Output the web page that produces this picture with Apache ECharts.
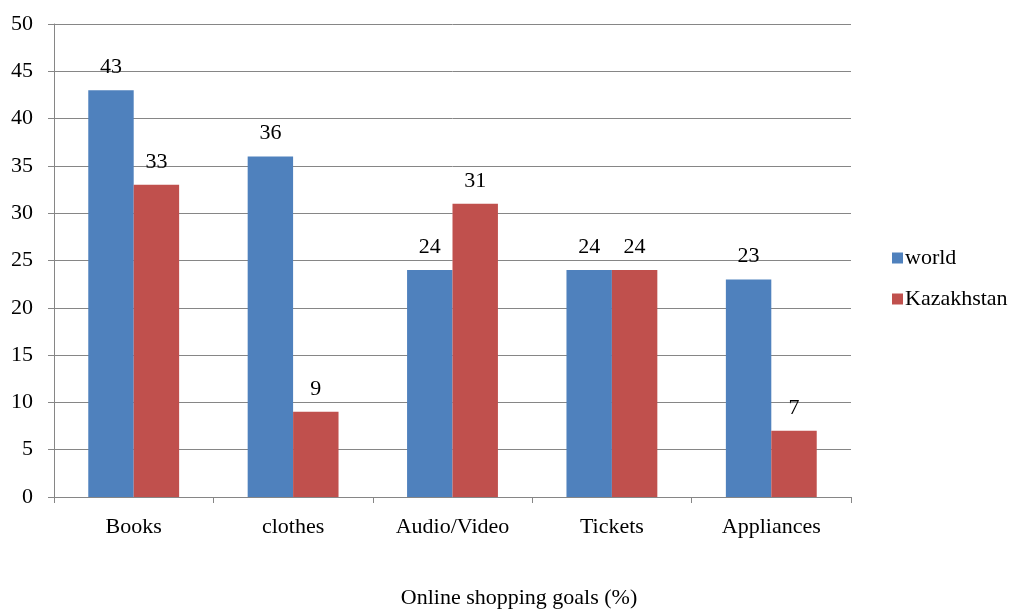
<!DOCTYPE html>
<html><head><meta charset="utf-8">
<script src="https://cdn.jsdelivr.net/npm/echarts@6/dist/echarts.min.js"></script>
<style>html,body{margin:0;padding:0;background:#fff}#c{width:1022px;height:610px}</style>
</head><body><div id="c"></div>
<script>
const categories = ['Books', 'clothes', 'Audio/Video', 'Tickets', 'Appliances'];
const worldValues = [43, 36, 24, 24, 23];
const kazakhstanValues = [33, 9, 31, 24, 7];
const yTicks = [0, 5, 10, 15, 20, 25, 30, 35, 40, 45, 50];
const xTitle = 'Online shopping goals (%)';

const font = 'Liberation Serif, Times New Roman, serif';
const fs = 22;
const chart = echarts.init(document.getElementById('c'));
chart.setOption({
  animation: false,
  textStyle: {fontFamily: font},
  grid: {left: 54, right: 171, top: 24, bottom: 113},
  legend: {
    orient: 'vertical', left: 887, top: 242,
    itemWidth: 11, itemHeight: 11, itemGap: 19,
    icon: 'rect',
    textStyle: {fontFamily: font, fontSize: fs, color: '#000', padding: [0, 0, 0, -3]},
    data: ['world', 'Kazakhstan']
  },
  graphic: [{
    type: 'text', x: 519, y: 598,
    style: {text: xTitle, font: fs + 'px ' + font, fill: '#000', align: 'center', verticalAlign: 'middle'}
  }],
  xAxis: {
    type: 'category', data: categories,
    axisLine: {lineStyle: {color: '#868686', width: 1}},
    axisTick: {show: true, length: 6, lineStyle: {color: '#868686'}},
    axisLabel: {color: '#000', fontSize: fs, fontFamily: font, margin: 19}
  },
  yAxis: {
    type: 'value', min: yTicks[0], max: yTicks[yTicks.length - 1], interval: 5,
    axisLine: {show: true, lineStyle: {color: '#868686', width: 1}},
    axisTick: {show: true, length: 6, lineStyle: {color: '#868686'}},
    axisLabel: {color: '#000', fontSize: fs, fontFamily: font, margin: 21},
    splitLine: {lineStyle: {color: '#868686', width: 1}}
  },
  series: [
    {name: 'world', type: 'bar', data: worldValues, barGap: '0%', barCategoryGap: '43%',
     itemStyle: {color: '#4F81BD'},
     label: {show: true, position: 'top', distance: 12, color: '#000', fontSize: fs, fontFamily: font}},
    {name: 'Kazakhstan', type: 'bar', data: kazakhstanValues, barGap: '0%', barCategoryGap: '43%',
     itemStyle: {color: '#C0504D'},
     label: {show: true, position: 'top', distance: 12, color: '#000', fontSize: fs, fontFamily: font}}
  ]
});
</script></body></html>
